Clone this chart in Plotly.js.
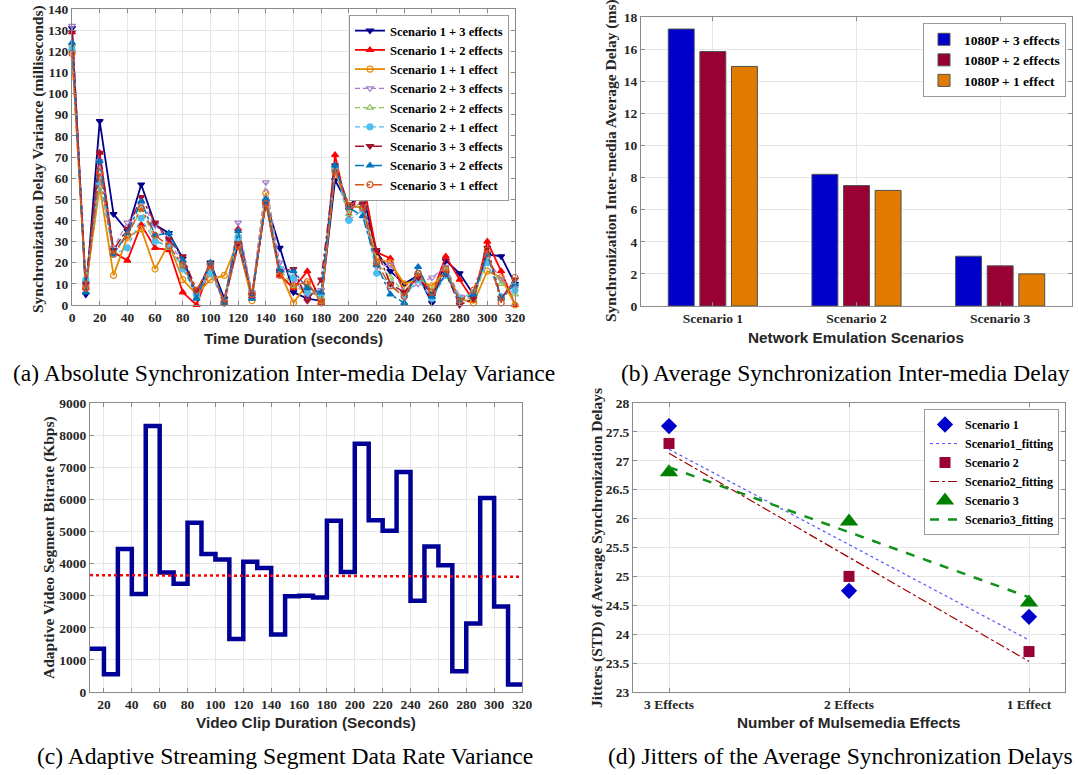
<!DOCTYPE html>
<html><head><meta charset="utf-8">
<script src="https://cdn.plot.ly/plotly-3.0.1.min.js"></script>
<style>html,body{margin:0;padding:0;background:#fff;} #chart{width:1078px;height:775px;}</style>
</head><body><div id="chart"></div>
<script>
// ---------- (a) Absolute Synchronization Inter-media Delay Variance ----------
const timeSec = [0,10,20,30,40,50,60,70,80,90,100,110,120,130,140,150,160,170,180,190,200,210,220,230,240,250,260,270,280,290,300,310,320];
const s1e3 = [131,5,87,43,35,57,38,34,22,5,20,3,29,4,49,27,6,3,2,59,47,53,25,16,10,14,1,21,15,5,24,23,10];
const s1e2 = [129,8,72,25,21,38,27,26,6,0,18,1,36,4,50,14,8,16,1,71,41,59,25,22,6,14,5,23,12,2,30,16,0];
const s1e1 = [120,9,56,14,32,36,17,29,12,5,12,14,30,2,53,16,1,10,2,64,47,46,22,20,10,12,9,16,3,1,16,13,0];
const s2e3 = [132,9,68,27,39,48,38,30,20,5,18,2,39,6,58,20,12,4,7,65,46,47,18,19,6,10,13,18,4,5,22,12,8];
const s2e2 = [123,12,59,25,33,45,31,27,18,4,17,2,33,5,50,17,9,6,4,64,43,50,20,13,6,14,7,17,3,3,21,10,5];
const s2e1 = [121,12,58,24,27,41,30,28,17,5,15,1,32,5,49,17,13,6,5,65,40,45,15,10,4,12,3,14,3,6,20,4,7];
const s3e3 = [129,10,72,26,36,51,39,31,23,7,19,1,29,5,48,16,17,2,12,66,47,48,26,10,6,13,5,15,0,3,27,3,12];
const s3e2 = [124,6,68,24,34,49,33,34,21,3,20,1,35,3,50,16,16,8,6,66,46,42,19,5,1,18,4,15,2,5,24,3,10];
const s3e1 = [119,8,63,24,33,46,33,28,19,7,19,1,28,5,48,14,9,11,1,63,47,46,20,9,4,15,6,17,2,7,26,1,13];
const seriesNamesA = ['Scenario 1 + 3 effects','Scenario 1 + 2 effects','Scenario 1 + 1 effect',
  'Scenario 2 + 3 effects','Scenario 2 + 2 effects','Scenario 2 + 1 effect',
  'Scenario 3 + 3 effects','Scenario 3 + 2 effects','Scenario 3 + 1 effect'];

// ---------- (b) Average Synchronization Inter-media Delay ----------
const scenarios = ['Scenario 1','Scenario 2','Scenario 3'];
const barNames = ['1080P + 3 effects','1080P + 2 effects','1080P + 1 effect'];
const delay3 = [17.25, 8.2, 3.1];
const delay2 = [15.85, 7.5, 2.5];
const delay1 = [14.92, 7.2, 2.0];

// ---------- (c) Adaptive Streaming Segment Data Rate ----------
const clipSec = [10,20,30,40,50,60,70,80,90,100,110,120,130,140,150,160,170,180,190,200,210,220,230,240,250,260,270,280,290,300,310,320];
const bitrate = [1350,550,4450,3050,8280,3720,3370,5270,4300,4130,1650,4060,3860,1790,2980,3000,2940,5330,3740,7730,5350,5020,6850,2840,4530,3950,650,2130,6040,2660,230,230];
const meanSec = [10,320];
const meanRate = [3640,3590];

// ---------- (d) Jitters of the Average Synchronization Delays ----------
const effects = ['3 Effects','2 Effects','1 Effect'];
const jit1 = [27.6, 24.75, 24.3];
const jit2 = [27.3, 25.0, 23.7];
const jit3 = [26.8, 25.95, 24.55];
const fitEnds = ['3 Effects','1 Effect'];
const fit1 = [27.2, 23.9];
const fit2 = [27.13, 23.53];
const fit3 = [26.89, 24.64];

const SERIF = 'Liberation Serif, Times New Roman, serif';
const SANS = 'Liberation Sans, Arial, sans-serif';

const stylesA = [
  {c:'#00008B', d:'solid', s:'triangle-down', w:1.8},
  {c:'#FF0000', d:'solid', s:'triangle-up', w:1.8},
  {c:'#E68A00', d:'solid', s:'circle-open', w:1.8},
  {c:'#A57CC9', d:'5px,3px', s:'triangle-down-open', w:1.2},
  {c:'#8DC25A', d:'5px,3px', s:'triangle-up-open', w:1.2},
  {c:'#4DBEEE', d:'5px,3px', s:'circle', w:1.2},
  {c:'#A2142F', d:'dashdot', s:'triangle-down', w:1.5},
  {c:'#0072BD', d:'dashdot', s:'triangle-up', w:1.5},
  {c:'#D95319', d:'dashdot', s:'circle-open', w:1.5}
];
const dataA = [s1e3,s1e2,s1e1,s2e3,s2e2,s2e1,s3e3,s3e2,s3e1];

const traces = [];
dataA.forEach((ys,i)=>{
  const st = stylesA[i];
  traces.push({type:'scatter', mode:'lines+markers', x:timeSec, y:ys, name:seriesNamesA[i],
    xaxis:'x', yaxis:'y', legend:'legend', cliponaxis:false,
    line:{color:st.c, dash:st.d, width:st.w},
    marker:{symbol:st.s, size:6, color:st.c, line:{color:st.c, width:1.2}}});
});

const barColors = ['#0000CC','#990033','#E07B00'];
[delay3,delay2,delay1].forEach((v,i)=>{
  traces.push({type:'bar', x:scenarios, y:v, name:barNames[i], xaxis:'x2', yaxis:'y2', legend:'legend2',
    marker:{color:barColors[i], line:{color:'#505050', width:1}}});
});

traces.push({type:'scatter', mode:'lines', x:clipSec, y:bitrate, xaxis:'x3', yaxis:'y3', showlegend:false,
  line:{shape:'hv', color:'#000096', width:4.5}});
traces.push({type:'scatter', mode:'lines', x:meanSec, y:meanRate, xaxis:'x3', yaxis:'y3', showlegend:false,
  line:{color:'#FF0000', dash:'dot', width:2.5}});

traces.push({type:'scatter', mode:'markers', x:effects, y:jit1, name:'Scenario 1', xaxis:'x4', yaxis:'y4', legend:'legend3', cliponaxis:false,
  marker:{symbol:'diamond', size:12.5, color:'#0000CC'}});
traces.push({type:'scatter', mode:'lines', x:fitEnds, y:fit1, name:'Scenario1_fitting', xaxis:'x4', yaxis:'y4', legend:'legend3',
  line:{color:'#5555FF', dash:'dot', width:1.2}});
traces.push({type:'scatter', mode:'markers', x:effects, y:jit2, name:'Scenario 2', xaxis:'x4', yaxis:'y4', legend:'legend3', cliponaxis:false,
  marker:{symbol:'square', size:11, color:'#990033'}});
traces.push({type:'scatter', mode:'lines', x:fitEnds, y:fit2, name:'Scenario2_fitting', xaxis:'x4', yaxis:'y4', legend:'legend3',
  line:{color:'#A00000', dash:'dashdot', width:1.2}});
traces.push({type:'scatter', mode:'markers', x:effects, y:jit3, name:'Scenario 3', xaxis:'x4', yaxis:'y4', legend:'legend3', cliponaxis:false,
  marker:{symbol:'triangle-up', size:16, color:'#008000'}});
traces.push({type:'scatter', mode:'lines', x:fitEnds, y:fit3, name:'Scenario3_fitting', xaxis:'x4', yaxis:'y4', legend:'legend3',
  line:{color:'#11901A', dash:'dash', width:2.5}});

const W = 1078, H = 775;
const dx = (a,b)=>[a/W, b/W];
const dy = (top,bot)=>[1-bot/H, 1-top/H];

function ax(extra){
  return Object.assign({showline:true, linecolor:'#8a8a8a', linewidth:1, mirror:'ticks', ticks:'inside', ticklen:4,
    tickcolor:'#8a8a8a', showgrid:true, gridcolor:'#e6e6e6', gridwidth:1, zeroline:false, fixedrange:true,
    tickfont:{family:SERIF, size:13.5, weight:'bold', color:'#262626'}}, extra);
}

function ann(text, xp, yp, opts){
  return Object.assign({text:text, x:xp/W, y:1-yp/H, xref:'paper', yref:'paper', showarrow:false,
    xanchor:'center', yanchor:'middle'}, opts);
}
const yTitleFont = {family:SERIF, size:15.5, weight:'bold', color:'#262626'};
const xTitleFont = {family:SANS, size:15.3, weight:'bold', color:'#262626'};
const capFont = {family:SERIF, size:23.6, color:'#000'};

const layout = {
  width:W, height:H, margin:{l:0,r:0,t:0,b:0}, paper_bgcolor:'#fff', plot_bgcolor:'#fff',
  showlegend:true, barmode:'group', bargap:0.34, bargroupgap:0.18,
  xaxis: ax({domain:dx(72,515), range:[0,320], dtick:20, tick0:0, anchor:'y'}),
  yaxis: ax({domain:dy(9,305), range:[0,140], dtick:10, anchor:'x'}),
  xaxis2: ax({domain:dx(641,1072), type:'category', range:[-0.5,2.5], anchor:'y2'}),
  yaxis2: ax({domain:dy(17,306), range:[0,18], dtick:2, anchor:'x2'}),
  xaxis3: ax({domain:dx(90,522), range:[10,320], dtick:20, tick0:0, anchor:'y3'}),
  yaxis3: ax({domain:dy(403,692), range:[0,9000], dtick:1000, anchor:'x3'}),
  xaxis4: ax({domain:dx(633,1065), type:'category', range:[-0.2,2.2], anchor:'y4'}),
  yaxis4: ax({domain:dy(403,692), range:[23,28], dtick:0.5, anchor:'x4'}),
  legend: {x:509/W, y:1-15/H, xanchor:'right', yanchor:'top', bgcolor:'#fff', bordercolor:'#999', borderwidth:1,
    font:{family:SERIF, size:12.5, weight:'bold', color:'#000'}, itemwidth:30, tracegroupgap:0},
  legend2: {x:1066/W, y:1-23/H, xanchor:'right', yanchor:'top', bgcolor:'#fff', bordercolor:'#999', borderwidth:1,
    font:{family:SERIF, size:13.5, weight:'bold', color:'#000'}, itemwidth:30},
  legend3: {x:1059/W, y:1-409/H, xanchor:'right', yanchor:'top', bgcolor:'#fff', bordercolor:'#999', borderwidth:1,
    font:{family:SERIF, size:12, weight:'bold', color:'#000'}, itemwidth:30},
  annotations: [
    ann('Synchronization Delay Variance (milliseconds)', 38, 159, {textangle:-90, font:yTitleFont}),
    ann('Time Duration (seconds)', 293, 338, {font:xTitleFont}),
    ann('(a) Absolute Synchronization Inter-media Delay Variance', 284, 373, {font:capFont}),
    ann('Synchronization Inter-media Average Delay (ms)', 611, 161, {textangle:-90, font:yTitleFont}),
    ann('Network Emulation Scenarios', 856, 337, {font:xTitleFont}),
    ann('(b) Average Synchronization Inter-media Delay', 845, 373, {font:capFont}),
    ann('Adaptive Video Segment Bitrate (Kbps)', 49, 548, {textangle:-90, font:yTitleFont}),
    ann('Video Clip Duration (Seconds)', 306, 722, {font:xTitleFont}),
    ann('(c) Adaptive Streaming Segment Data Rate Variance', 285, 756, {font:capFont}),
    ann('Jitters (STD) of Average Synchronization Delays', 597, 548, {textangle:-90, font:yTitleFont}),
    ann('Number of Mulsemedia Effects', 849, 722, {font:xTitleFont}),
    ann('(d) Jitters of the Average Synchronization Delays', 840, 756, {font:capFont})
  ]
};

Plotly.newPlot('chart', traces, layout, {displayModeBar:false, staticPlot:true});
</script></body></html>
